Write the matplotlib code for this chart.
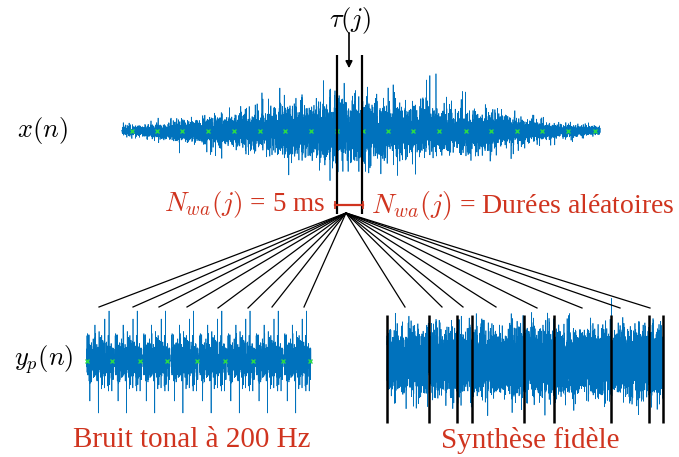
import numpy as np
import matplotlib.pyplot as plt

plt.rcParams["font.family"] = ["Liberation Serif", "DejaVu Serif"]
plt.rcParams["mathtext.fontset"] = "cm"

BLUE = "#0072BD"
RED = "#D0341F"
GREEN = "#2BD84A"

# top signal x(n): envelope (peak half-height)
env_pos = [122, 150, 200, 250, 300, 340, 370, 400, 450, 500, 550, 600]
env_amp = [10, 14, 26, 40, 54, 72, 64, 56, 48, 34, 18, 8]
top_marks = [132, 157, 182, 208, 234, 260, 285, 311, 337, 363, 388, 413, 439, 466, 491, 517, 542, 568, 595]

# window tau(j) on the top signal
win_left, win_right = 337, 362

# bottom-left y_p(n): 8 repetitions of one 5 ms segment
tonal_start, tonal_end, n_rep = 86.5, 312, 8
tonal_marks = [87, 112, 140, 167, 197, 225, 253, 283, 310]

# bottom-right y_p(n) with random-length grains
synth_start, synth_end = 387, 663
synth_cuts = [387, 429, 457, 472, 524, 554, 611, 649, 663]

# fan lines: origin and end points on each output signal
fan_origin = (346, 213)
fan_left = [(99, 307), (133, 307), (159, 307), (187, 307), (218, 308), (248, 308), (272, 307), (304, 307)]
fan_right = [(405, 307), (442, 307), (463, 307), (496, 307), (537, 308), (582, 308), (620, 308), (650, 308)]

rng = np.random.default_rng(7)

fig = plt.figure(figsize=(6.79, 4.57), dpi=100)
ax = fig.add_axes([0, 0, 1, 1])
ax.set_xlim(0, 679)
ax.set_ylim(457, 0)
ax.axis("off")

# top waveform: dense core with sparse louder spikes
n_top = 9000
xt = np.linspace(env_pos[0], env_pos[-1], n_top)
env = np.interp(xt, env_pos, env_amp)
spiky = rng.random(n_top) < 0.05
scale = np.where(spiky, env / 2.6, env / 4.8)
yt = 131 + scale * rng.standard_normal(n_top)
ax.plot(xt, yt, color=BLUE, lw=0.5)
ax.plot(top_marks, [131] * len(top_marks), "x", color=GREEN, ms=3.5, mew=1.0)

# bottom-left tonal noise
seg_len = 500
seg = 10.5 * rng.standard_normal(seg_len)
seg[int(0.12 * seg_len)] = -40
seg[int(0.42 * seg_len)] = -52
seg[int(0.30 * seg_len)] = 36
seg[int(0.65 * seg_len)] = 42
seg[int(0.80 * seg_len)] = 50
seg[int(0.90 * seg_len)] = -30
seg[-22:] = 0
yl = 361 - np.tile(seg, n_rep)
xl = np.linspace(tonal_start, tonal_end, seg_len * n_rep)
ax.plot(xl, yl, color=BLUE, lw=0.5)
ax.plot(tonal_marks, [361] * len(tonal_marks), "x", color=GREEN, ms=3.5, mew=1.0)

# bottom-right synthesis
n_syn = 9000
xr = np.linspace(synth_start, synth_end, n_syn)
yr = 362 + 15 * rng.standard_normal(n_syn)
ax.plot(xr, yr, color=BLUE, lw=0.5)
ax.vlines(synth_cuts, 315, 423, color="black", lw=1.8)

# window lines, arrow and bracket
ax.vlines([win_left, win_right], 55, 214, color="black", lw=1.6)
ax.annotate("", xy=(349, 71), xytext=(349, 30),
            arrowprops=dict(arrowstyle="-|>", color="black", lw=1.2, mutation_scale=10))
ax.plot([win_left - 2, win_right + 1], [205, 205], color=RED, lw=1.6)
ax.vlines([win_left - 2, win_right + 1], 201, 209, color=RED, lw=1.2)

for x1, y1 in fan_left + fan_right:
    ax.plot([fan_origin[0], x1], [fan_origin[1], y1], color="black", lw=0.9)

# labels
ax.text(350, 20, r"$\tau(j)$", ha="center", va="center", fontsize=19)
ax.text(42, 130, r"$x(n)$", ha="center", va="center", fontsize=19)
ax.text(44, 360, r"$y_p(n)$", ha="center", va="center", fontsize=19)
ax.text(325, 205, r"$N_{wa}(j)$ = 5 ms", ha="right", va="center", fontsize=19.5, color=RED)
ax.text(371, 205, r"$N_{wa}(j)$ = Durées aléatoires", ha="left", va="center", fontsize=20, color=RED)
ax.text(192, 440, "Bruit tonal à 200 Hz", ha="center", va="center", fontsize=21, color=RED)
ax.text(530, 440, "Synthèse fidèle", ha="center", va="center", fontsize=21, color=RED)

fig.savefig("out.png", dpi=100)
